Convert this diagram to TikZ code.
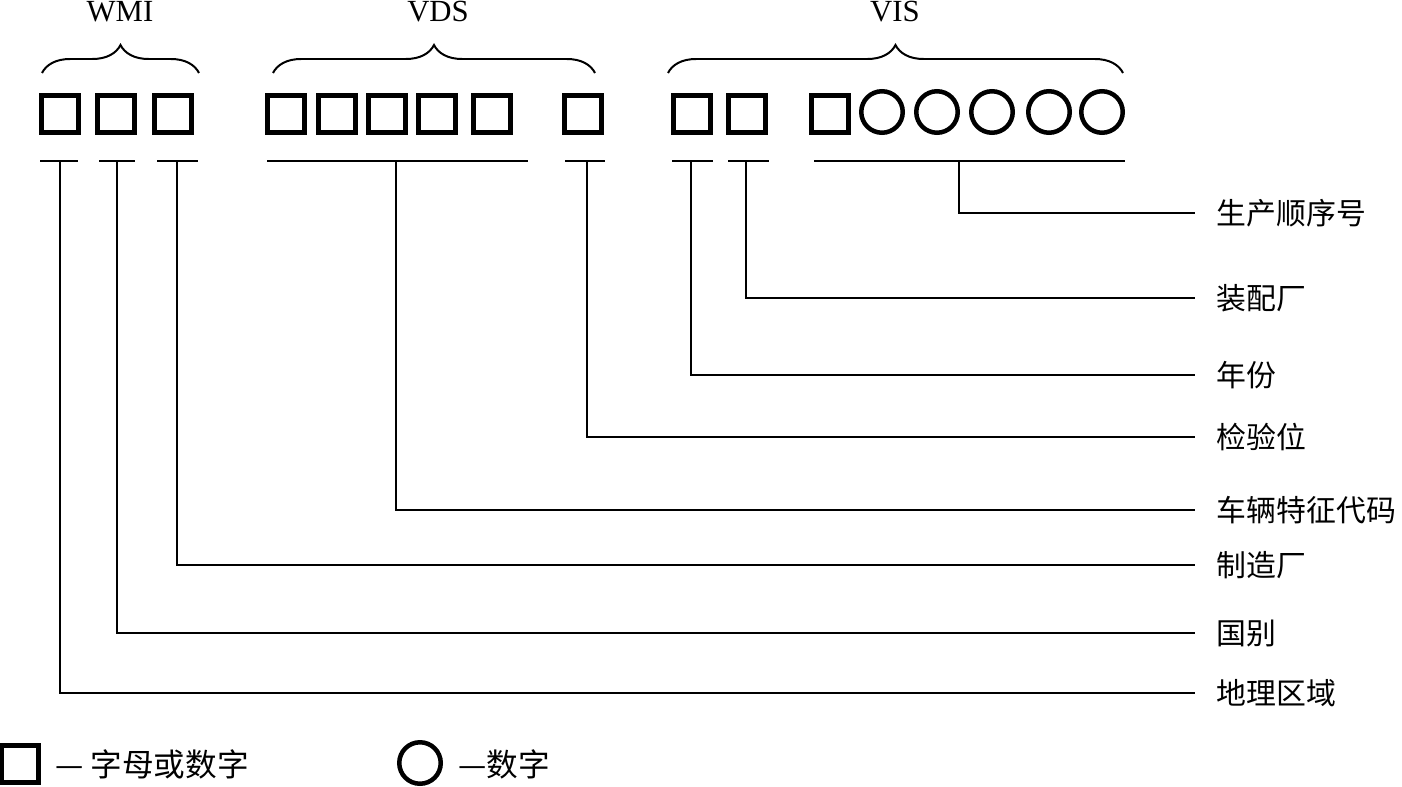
\documentclass[tikz,border=0pt]{standalone}
\usepackage{fontspec}
\setmainfont{Liberation Serif}
\newfontfamily\cjk{Noto Sans CJK SC}
\usetikzlibrary{decorations.pathreplacing}
\tikzset{
  kotak/.style={draw,line width=0.1cm,minimum size=0.74cm,inner sep=0},
  bulat/.style={draw,circle,line width=0.09cm,minimum size=0.83cm,inner sep=0},
  garis/.style={line width=0.04cm},
  kurung/.style={garis,decorate,decoration={brace,amplitude=0.56cm}},
  judul/.style={font=\fontsize{17.5}{20}\selectfont,inner sep=0},
  ket/.style={anchor=west,inner xsep=0.43cm,inner ysep=0,font=\cjk\fontsize{17}{20}\selectfont},
  legenda/.style={anchor=west,inner sep=0,font=\cjk\fontsize{18}{21}\selectfont},
}
\begin{document}
\begin{tikzpicture}[x=0.02cm,y=-0.02cm]
    \useasboundingbox (0,0) rectangle (1402,787);
    % Kotak dan bulat
    \foreach \n/\x in {1/60,2/116,3/173,4/286,5/337,6/387,7/437,8/492,9/583,10/692,11/747,12/830}
        \node[kotak] (k\n) at (\x,114) {};
    \foreach \n/\x in {1/882,2/937,3/992,4/1049,5/1102}
        \node[bulat] (b\n) at (\x,112) {};
    % Kurung
    \draw[kurung] (42,73) -- (199,73);
    \draw[kurung] (273,73) -- (595,73);
    \draw[kurung] (668,73) -- (1123,73);
    \node[judul] (wmi) at (120,12) {WMI};
    \node[judul] (vds) at (438,12) {VDS};
    \node[judul] (vis) at (895,12) {VIS};
    % Garis bawah
    \foreach \a/\b in {40/78,99/135,157/198,267/528,565/605,672/713,728/769,814/1125}
        \draw[garis] (\a,161) -- (\b,161);
    \coordinate (uregion) at (60,161);
    \coordinate (ucountry) at (117,161);
    \coordinate (umaker) at (177,161);
    \coordinate (uvds) at (396,161);
    \coordinate (ucheck) at (587,161);
    \coordinate (uyear) at (691,161);
    \coordinate (uplant) at (746,161);
    \coordinate (useq) at (959,161);
    % Keterangan
    \node[ket] (lseq) at (1195,213) {生产顺序号};
    \node[ket] (lplant) at (1195,298) {装配厂};
    \node[ket] (lyear) at (1195,375) {年份};
    \node[ket] (lcheck) at (1195,437) {检验位};
    \node[ket] (lvds) at (1195,510) {车辆特征代码};
    \node[ket] (lmaker) at (1195,565) {制造厂};
    \node[ket] (lcountry) at (1195,633) {国别};
    \node[ket] (lregion) at (1195,693) {地理区域};
    \draw[garis] (useq) |- (lseq.west);
    \draw[garis] (uplant) |- (lplant.west);
    \draw[garis] (uyear) |- (lyear.west);
    \draw[garis] (ucheck) |- (lcheck.west);
    \draw[garis] (uvds) |- (lvds.west);
    \draw[garis] (umaker) |- (lmaker.west);
    \draw[garis] (ucountry) |- (lcountry.west);
    \draw[garis] (uregion) |- (lregion.west);
    % Legenda
    \node[kotak] (lgkotak) at (20,764) {};
    \node[legenda] (lgk) at (55,764) {— 字母或数字};
    \node[bulat] (lgbulat) at (420,763) {};
    \node[legenda] (lgb) at (458,764) {—数字};
\end{tikzpicture}
\end{document}
